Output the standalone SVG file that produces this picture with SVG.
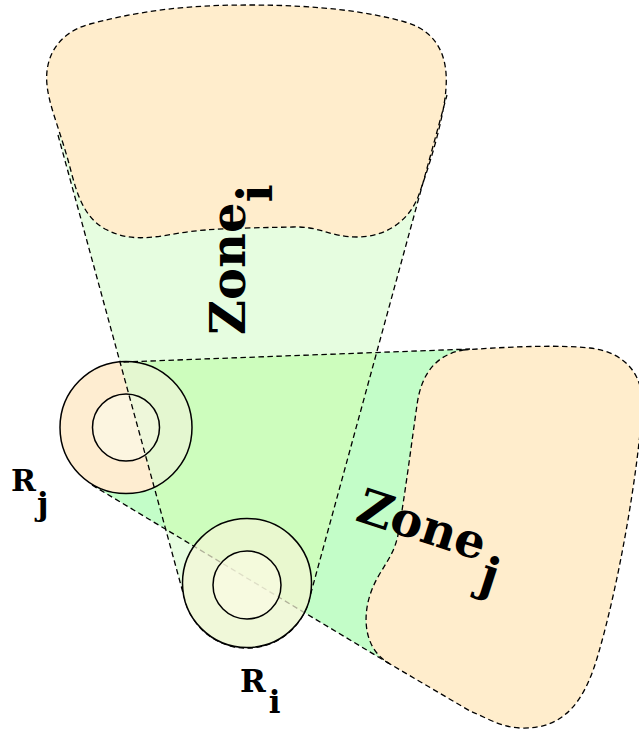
<svg xmlns="http://www.w3.org/2000/svg" width="639" height="731" viewBox="0 0 639 731">
<style>
.blob{fill:#ffedcc;stroke:#000;stroke-width:1.3;stroke-dasharray:5.5 3.5}
.dash{fill:none;stroke:#000;stroke-width:1.3;stroke-dasharray:5.5 3.5}
.ring{stroke:#000;stroke-width:1.5}
.lbl{font-family:"DejaVu Serif","Liberation Serif",serif;font-weight:bold;fill:#000}
</style>
<defs>
<clipPath id="clipFanI"><path d="M58,135 L185.2,600.8 A64 64 0 0 0 308.8,600.8 L447,95 L250,60 Z"/></clipPath>
</defs>
<rect width="639" height="731" fill="#fff"/>
<g id="connectors">
<path id="fan_j" d="M123.5,362 L470,349 L420,400 L398,540 L390,664 L92,485 Z" fill="#c3fdc8"/>
<path id="fan_i" d="M58,135 L185.2,600.8 A64 64 0 0 0 308.8,600.8 L447,95 L250,60 Z" fill="#e6fde0"/>
<path d="M123.5,362 L470,349 L420,400 L398,540 L390,664 L92,485 Z" fill="#cdfdbd" clip-path="url(#clipFanI)"/>
</g>
<g id="zone_i">
<path class="blob" d="M47,85 C44,55 60,32 90,24 C150,8 200,5 250,5 C320,5 370,12 405,22 C440,32 448,60 446,88 C444,120 428,170 418,197 C408,222 385,237 357,237 C330,237 320,226 293,227 C250,228 210,228 180,233 C150,238 130,242 105,229 C80,215 75,185 68,160 C58,125 49,105 47,85 Z"/>
<text class="lbl" font-size="48" transform="translate(245,335) rotate(-90)">Zone<tspan dy="27">i</tspan></text>
</g>
<g id="zone_j">
<path class="blob" d="M463,350 C520,346 560,345 590,348 C625,352 645,375 642,410 C638,470 620,580 598,655 C585,700 565,730 520,728 C500,727 485,717 470,711 L390,664 C365,650 362,620 370,595 C378,570 393,560 398,535 C405,495 412,440 417,405 C421,375 435,355 463,350 Z"/>
<text class="lbl" font-size="48" transform="translate(354,520) rotate(18)">Zone<tspan dx="5" dy="27">j</tspan></text>
</g>
<g id="R_j">
<circle cx="126" cy="427.5" r="66" fill="#feedd1"/>
<circle cx="126" cy="427.5" r="33.5" fill="#fcf5e0"/>
<g clip-path="url(#clipFanI)">
<circle cx="126" cy="427.5" r="66" fill="#e4f7d0"/>
<circle cx="126" cy="427.5" r="33.5" fill="#eef7da"/>
</g>
<circle class="ring" cx="126" cy="427.5" r="66" fill="none"/>
<circle class="ring" cx="126" cy="427.5" r="33.5" fill="none"/>
<text class="lbl" x="11" y="491" font-size="30">R<tspan dx="1" dy="24" font-size="32">j</tspan></text>
</g>
<g id="connector_lines">
<path class="dash" d="M58,135 L185.2,600.8 A64 64 0 0 0 308.8,600.8 L447,95"/>
<path class="dash" d="M123.5,362 L470,349"/>
<path class="dash" d="M92,485 L390,664"/>
</g>
<g id="R_i">
<circle class="ring" cx="247" cy="583" r="64.5" fill="#f4f5d6" fill-opacity="0.72"/>
<circle class="ring" cx="247" cy="585" r="34" fill="#fbfbe4" fill-opacity="0.6"/>
<text class="lbl" x="240" y="692" font-size="31">R<tspan dx="3" dy="21">i</tspan></text>
</g>
</svg>
